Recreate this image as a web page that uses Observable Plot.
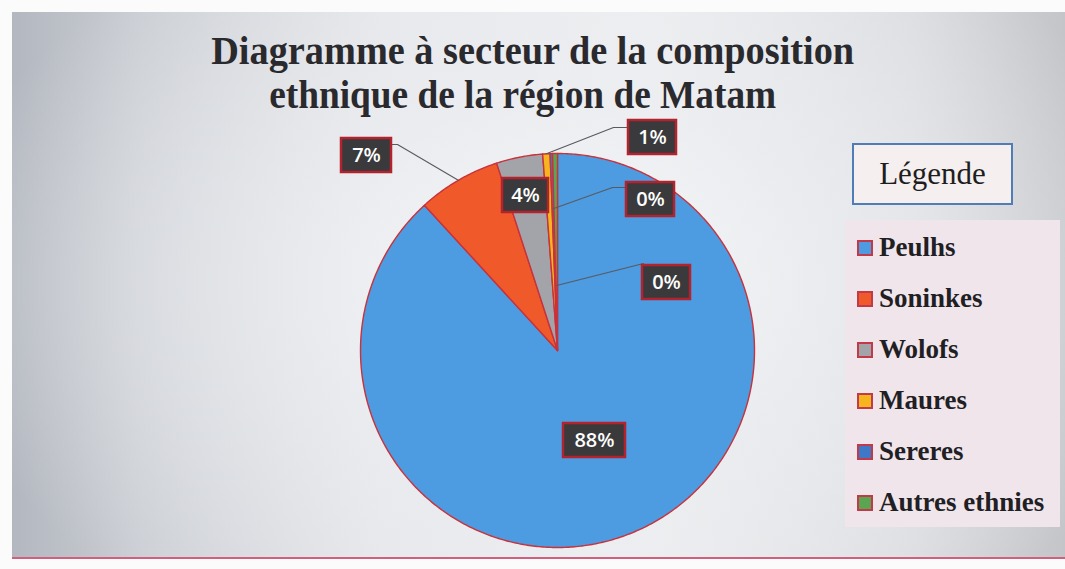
<!DOCTYPE html>
<html>
<head>
<meta charset="utf-8">
<script src="https://cdn.jsdelivr.net/npm/d3@7"></script>
<script src="https://cdn.jsdelivr.net/npm/@observablehq/plot@0.6"></script>
<style>
  html, body { margin: 0; padding: 0; background: #ffffff; }
  #wrap { position: relative; width: 1065px; height: 569px; overflow: hidden; background: #fbfbfb; }
  #card { position: absolute; left: 12px; top: 12px; width: 1060px; height: 545px;
    background:
      radial-gradient(ellipse 60% 75% at 52% 50%, rgba(245,246,248,0.95) 0%, rgba(236,238,241,0.7) 45%, rgba(236,238,241,0) 100%),
      linear-gradient(90deg, #b3b7bf 0%, #cacdd3 12%, #e4e6e9 35%, #eceef0 60%, #dadcdf 85%, #c2c4c8 100%);
    border-bottom: 2px solid #d0607e; }
  #chart { position: absolute; left: 0; top: 0; }
  .title { position: absolute; left: 0; width: 1065px; text-align: center;
    font-family: "Liberation Serif", "Times New Roman", serif; font-weight: bold; font-size: 40px;
    color: #2a2a2e; white-space: nowrap; }
  .title span { display: inline-block; transform-origin: center; }
  #legtitle { position: absolute; left: 852px; top: 143px; width: 157px; height: 58px;
    border: 2px solid #4f7db5; background: #f5efef; box-sizing: content-box;
    font-family: "Liberation Serif", "Times New Roman", serif; font-size: 31px; color: #1e1e1e;
    display: flex; align-items: center; justify-content: center; }
  #legpanel { position: absolute; left: 845px; top: 220px; width: 215px; height: 307px; background: #f1e5ec; }
  .item { position: absolute; left: 12px; display: flex; align-items: center;
    font-family: "Liberation Serif", "Times New Roman", serif; font-weight: bold; font-size: 27px; color: #1f1f24; }
  .sw { width: 12px; height: 12px; border: 2px solid #c23a4a; margin-right: 6px; }
</style>
</head>
<body>
<div id="wrap">
  <div id="card"></div>
  <div id="chart"></div>
  <div class="title" style="top:27px"><span id="t1">Diagramme à secteur de la composition</span></div>
  <div class="title" style="top:71px; left:-10px"><span id="t2">ethnique de la région de Matam</span></div>
  <div id="legtitle">Légende</div>
  <div id="legpanel"></div>
</div>
<script>
// ---- data ----
const categories = ["Peulhs", "Soninkes", "Wolofs", "Maures", "Sereres", "Autres ethnies"];
const values = [88.2, 6.8, 3.8, 0.6, 0.2, 0.4];
const percentLabels = ["88%", "7%", "4%", "1%", "0%", "0%"];
const colors = ["#4d9be0", "#f05a2a", "#a3a4aa", "#f6b51e", "#3e78c6", "#5ba552"];

// ---- layout (pixels) ----
const W = 1065, H = 569, CX = 557, CY = 350, R = 197;
// label box centres (px) and leader geometry: [boxEdge, elbow] px, anchor radius
const labelLayout = [
  {box: [594, 440], w: 62, leader: null},
  {box: [366, 155], w: 50, leader: [[390, 144], [397, 144]], ar: 1.0},
  {box: [525, 195], w: 46, leader: null},
  {box: [652, 137], w: 48, leader: [[628, 127], [613, 127]], ar: 1.0},
  {box: [650, 199], w: 48, leader: [[625, 187], [612, 187]], ar: 0.72},
  {box: [666, 282], w: 48, leader: [[643, 268], [643, 263]], ar: 0.33}
];

const ux = px => (px - CX) / R;
const uy = py => (CY - py) / R;

const arcs = d3.pie().sort(null).value(d => d)(values);

// slice polygons
const slicePts = [];
arcs.forEach((a, i) => {
  const cat = categories[i];
  slicePts.push({cat, x: 0, y: 0});
  const n = Math.max(2, Math.ceil((a.endAngle - a.startAngle) / 0.01));
  for (let k = 0; k <= n; k++) {
    const t = a.startAngle + (a.endAngle - a.startAngle) * k / n;
    slicePts.push({cat, x: Math.sin(t), y: Math.cos(t)});
  }
});

// leaders
const leaderPts = [];
arcs.forEach((a, i) => {
  const L = labelLayout[i];
  if (!L.leader) return;
  const m = (a.startAngle + a.endAngle) / 2;
  L.leader.forEach(p => leaderPts.push({k: i, x: ux(p[0]), y: uy(p[1])}));
  leaderPts.push({k: i, x: L.ar * Math.sin(m), y: L.ar * Math.cos(m)});
});

// label boxes
const boxes = arcs.map((a, i) => {
  const L = labelLayout[i];
  return {
    label: percentLabels[i],
    x: ux(L.box[0]), y: uy(L.box[1]),
    x1: ux(L.box[0] - L.w / 2), x2: ux(L.box[0] + L.w / 2),
    y1: uy(L.box[1] - 17), y2: uy(L.box[1] + 17)
  };
});

const plot = Plot.plot({
  width: W, height: H,
  margin: 0,
  style: {background: "transparent", overflow: "visible"},
  x: {domain: [ux(0), ux(W)], range: [0, W], axis: null},
  y: {domain: [uy(H), uy(0)], range: [H, 0], axis: null},
  color: {domain: categories, range: colors},
  marks: [
    Plot.line(slicePts, {x: "x", y: "y", z: "cat", fill: "cat", stroke: "#c8323c", strokeWidth: 1.4, curve: "linear-closed"}),
    Plot.line(leaderPts, {x: "x", y: "y", z: "k", stroke: "#5a5a5e", strokeWidth: 1.1}),
    Plot.rect(boxes, {x1: "x1", x2: "x2", y1: "y1", y2: "y2", fill: "#3a3a3c", stroke: "#b3232d", strokeWidth: 2.5}),
    Plot.text(boxes, {x: "x", y: "y", text: "label", fill: "#ffffff", fontSize: 20, fontWeight: 600, fontFamily: "Open Sans, sans-serif"})
  ]
});
document.getElementById("chart").appendChild(plot);

// legend
const panel = document.getElementById("legpanel");
categories.forEach((c, i) => {
  const it = document.createElement("div");
  it.className = "item";
  it.style.top = (12 + i * 51) + "px";
  const sw = document.createElement("div");
  sw.className = "sw";
  sw.style.background = colors[i];
  it.appendChild(sw);
  it.appendChild(document.createTextNode(c));
  panel.appendChild(it);
});

// fit title widths
function fit(id, target) {
  const el = document.getElementById(id);
  const w = el.getBoundingClientRect().width;
  el.style.transform = `scaleX(${target / w})`;
}
fit("t1", 643);
fit("t2", 507);
</script>
</body>
</html>
